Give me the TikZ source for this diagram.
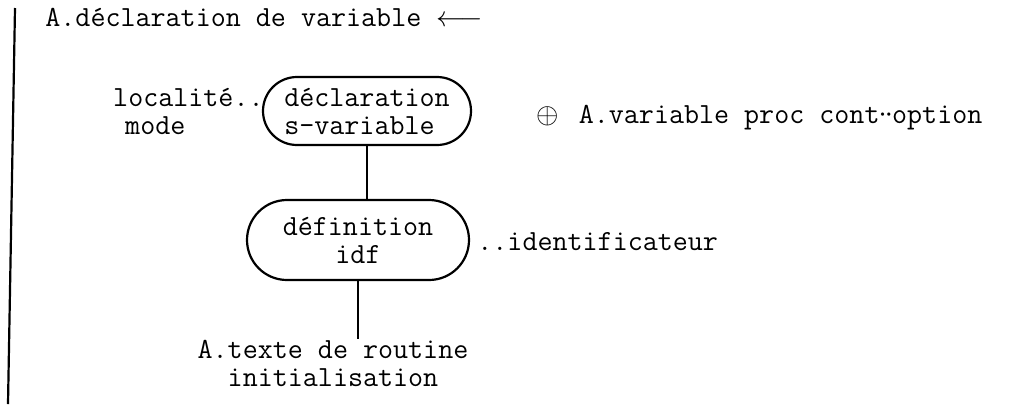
\documentclass[tikz,border=0pt]{standalone}

\begin{document}
\begin{tikzpicture}[x=0.5pt,y=-0.5pt,
  txt/.style={inner sep=0pt,font=\fontsize{14.6}{14}\selectfont\ttfamily},
  capsule/.style={txt,draw,line width=1.1pt,rectangle}]

\useasboundingbox (0,0) rectangle (1020,407);

\draw[line width=1.1pt] (15,8)--(8,404);

\node[txt,anchor=base west] (titre) at (45,26) {A.déclaration de variable $\longleftarrow$};

\node[capsule,align=left,minimum width=104pt,minimum height=34pt,rounded corners=17pt] (decl) at (367,111) {déclaration\\s-variable};
\node[txt,align=left,anchor=east] (loc) at (264,111) {localité..\\\hspace*{6pt}mode};
\node[txt,anchor=base west] (opt) at (536,123) {$\oplus$\hspace{10pt}A.variable proc cont\kern-0.15em·\kern-0.3em·\kern-0.15em option};

\node[capsule,align=center,minimum width=111pt,minimum height=40pt,rounded corners=20pt] (defn) at (358,240) {définition\\idf};
\node[txt,anchor=base west] (idf) at (477,250) {..identificateur};

\node[txt,align=center] (texte) at (333,363) {A.texte de routine\\initialisation};

\draw[line width=1.1pt] (decl.south)--(decl.south |- defn.north);
\draw[line width=1.1pt] (defn.south)--(defn.south |- texte.north);

\end{tikzpicture}
\end{document}
